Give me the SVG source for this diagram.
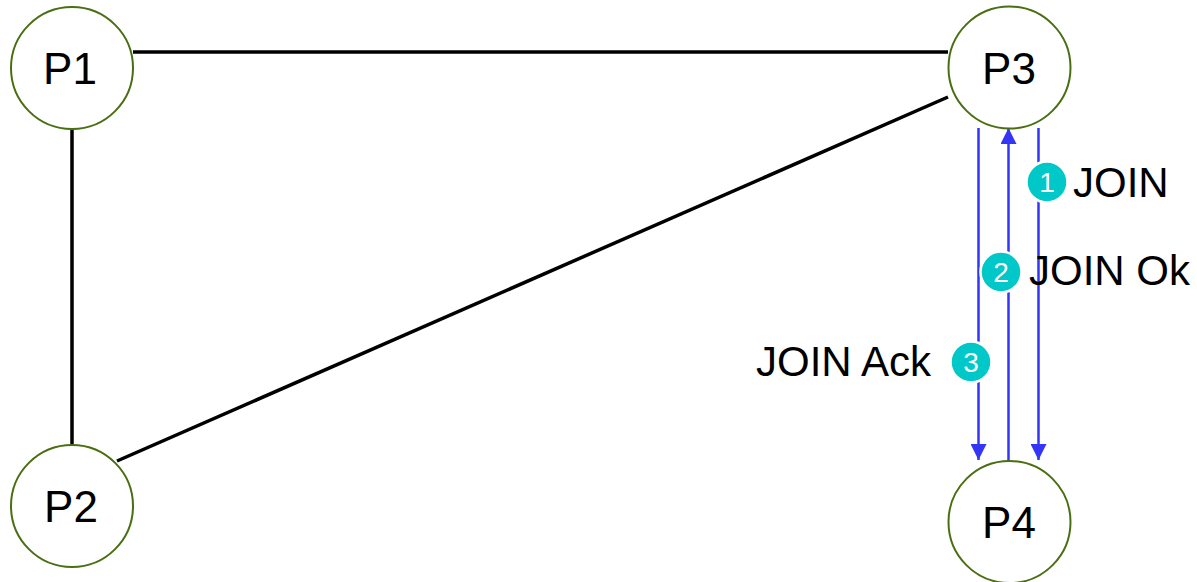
<svg xmlns="http://www.w3.org/2000/svg" width="1197" height="582" viewBox="0 0 1197 582">
<defs>
<style>
.node{fill:#fff;stroke:#4a6e12;stroke-width:2}
.nl{font-family:"Liberation Sans",Arial,sans-serif;font-size:44px;fill:#000;text-anchor:middle}
.edge{stroke:#000;stroke-width:3.5;fill:none}
.msg{stroke:#3535f5;stroke-width:2.5;fill:none}
.badge{fill:#00c8c8;stroke:#fff;stroke-width:2.5}
.bt{font-family:"Liberation Sans",Arial,sans-serif;font-size:28px;fill:#fff;text-anchor:middle}
.lbl{font-family:"Liberation Sans",Arial,sans-serif;font-size:42px;fill:#000}
</style>
<marker id="ah" viewBox="0 0 16 16" refX="16" refY="8" markerWidth="16" markerHeight="16" markerUnits="userSpaceOnUse" orient="auto">
<path d="M0,0 L16,8 L0,16 Z" fill="#3535f5"/>
</marker>
</defs>
<g id="connectors">
<line class="edge" x1="133" y1="52" x2="948" y2="52"/>
<line class="edge" x1="72" y1="129" x2="72" y2="445"/>
<line class="edge" x1="117" y1="461" x2="948" y2="97"/>
<line class="msg" x1="978.5" y1="128" x2="978.5" y2="460" marker-end="url(#ah)"/>
<line class="msg" x1="1008.5" y1="461" x2="1008.5" y2="128" marker-end="url(#ah)"/>
<line class="msg" x1="1038.5" y1="128" x2="1038.5" y2="460" marker-end="url(#ah)"/>
</g>
<g id="P1"><circle class="node" cx="72" cy="68" r="61"/><text class="nl" x="70" y="84">P1</text></g>
<g id="P2"><circle class="node" cx="72" cy="506" r="61"/><text class="nl" x="71" y="522">P2</text></g>
<g id="P3"><circle class="node" cx="1009.5" cy="67.5" r="61"/><text class="nl" x="1009" y="84">P3</text></g>
<g id="P4"><circle class="node" cx="1009.5" cy="522" r="61"/><text class="nl" x="1009" y="538">P4</text></g>
<g id="label1"><circle class="badge" cx="1047" cy="182" r="20.5"/><text class="bt" x="1047" y="192">1</text><text class="lbl" x="1073" y="197">JOIN</text></g>
<g id="label2"><circle class="badge" cx="1001" cy="272" r="20.5"/><text class="bt" x="1001" y="282">2</text><text class="lbl" x="1029" y="285">JOIN Ok</text></g>
<g id="label3"><circle class="badge" cx="971" cy="362" r="20.5"/><text class="bt" x="971" y="372">3</text><text class="lbl" x="756" y="376">JOIN Ack</text></g>
</svg>
